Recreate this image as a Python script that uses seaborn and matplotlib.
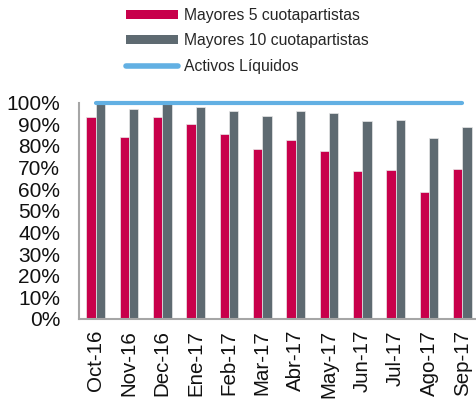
import numpy as np
import pandas as pd
import matplotlib
matplotlib.use("Agg")
import matplotlib.pyplot as plt
import matplotlib.patches as mpatches
from matplotlib.lines import Line2D
from matplotlib.ticker import PercentFormatter
import seaborn as sns

meses = ["Oct-16", "Nov-16", "Dec-16", "Ene-17", "Feb-17", "Mar-17",
         "Abr-17", "May-17", "Jun-17", "Jul-17", "Ago-17", "Sep-17"]
mayores_5 = [93.4, 84.2, 93.4, 90.1, 85.3, 78.7, 82.7, 77.7, 68.5, 68.7, 58.8, 69.1]
mayores_10 = [99.3, 97.0, 99.3, 97.8, 96.2, 93.8, 95.9, 95.0, 91.5, 91.8, 83.5, 88.5]
activos_liquidos = [100] * 12

series = ["Mayores 5 cuotapartistas", "Mayores 10 cuotapartistas"]
colores = {"Mayores 5 cuotapartistas": "#C8004B",
           "Mayores 10 cuotapartistas": "#5E6A71"}
color_linea = "#62B0E3"

df = pd.DataFrame({
    "mes": meses * 2,
    "valor": mayores_5 + mayores_10,
    "serie": [series[0]] * len(meses) + [series[1]] * len(meses),
})

sns.set_style("white")
plt.rcParams["font.family"] = ["Liberation Sans", "DejaVu Sans"]

fig = plt.figure(figsize=(4.76, 4.01), dpi=100)
ax = fig.add_axes([79 / 476, 82 / 401, 400 / 476, 216.5 / 401])

sns.barplot(data=df, x="mes", y="valor", hue="serie", palette=colores,
            width=0.56, order=meses, hue_order=series, ax=ax,
            saturation=1, edgecolor="#E8E8E8", linewidth=0.5, legend=False)
sns.lineplot(x=np.arange(len(meses)), y=activos_liquidos, color=color_linea,
             linewidth=3, ax=ax, clip_on=False, legend=False)

ax.set_xlim(-0.5, len(meses) - 0.5)
ax.set_ylim(0, 100)
ax.set_yticks(np.arange(0, 101, 10))
ax.yaxis.set_major_formatter(PercentFormatter(decimals=0))
ax.set_xlabel("")
ax.set_ylabel("")
ax.tick_params(axis="y", labelsize=15, length=0, pad=13.5, labelcolor="#111111")
ax.tick_params(axis="x", labelsize=14.8, length=0, pad=8, labelrotation=90,
               labelcolor="#111111")

for side in ["top", "right"]:
    ax.spines[side].set_visible(False)
for side in ["left", "bottom"]:
    ax.spines[side].set_color("#A6A6A6")
    ax.spines[side].set_linewidth(1.5)

handles = [
    mpatches.Patch(facecolor=colores[series[0]], edgecolor="none"),
    mpatches.Patch(facecolor=colores[series[1]], edgecolor="none"),
    Line2D([0], [0], color=color_linea, linewidth=4, solid_capstyle="round"),
]
labels = series + ["Activos Líquidos"]
fig.legend(handles, labels, loc="upper left",
           bbox_to_anchor=(126 / 476, 1 - 8 / 401),
           frameon=False, fontsize=11.3, handlelength=3.3, handleheight=0.5,
           handletextpad=0.38, labelspacing=0.66, borderpad=0,
           borderaxespad=0)

fig.savefig("out.png", dpi=100)
